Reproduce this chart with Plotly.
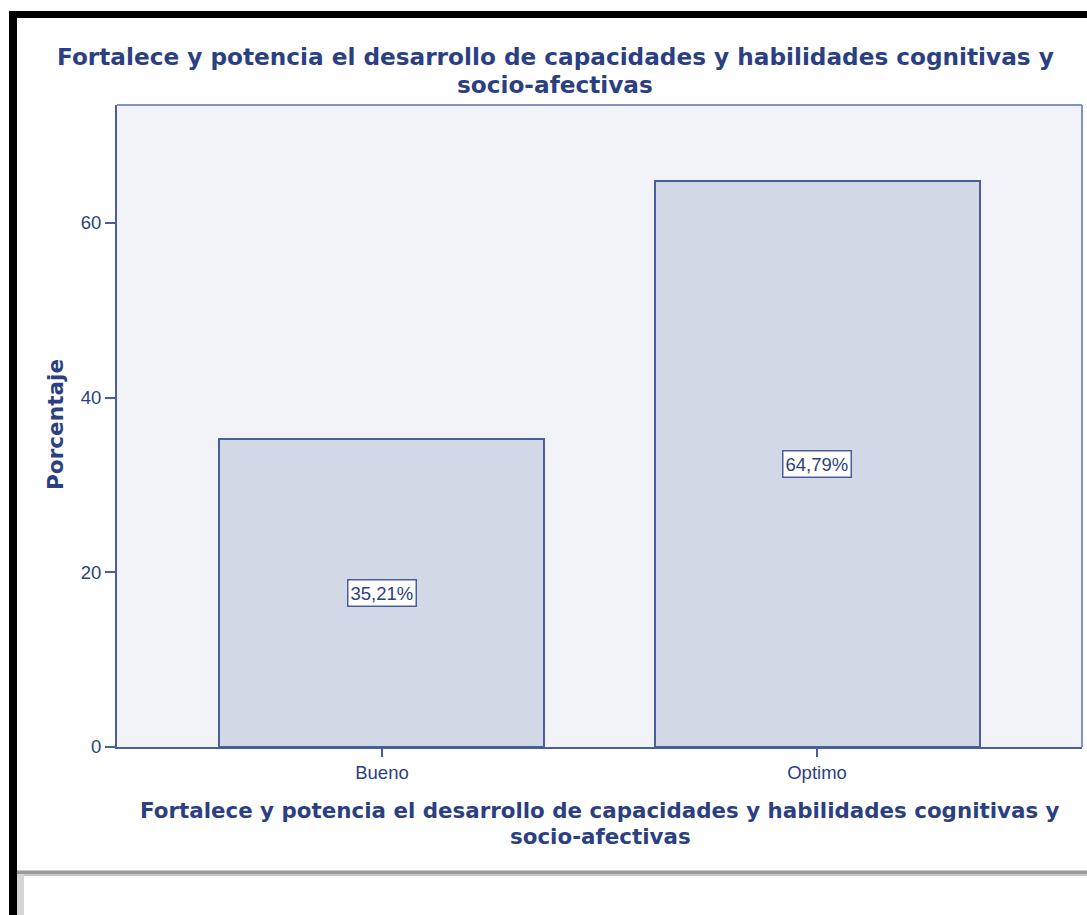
import plotly.graph_objects as go

# Data
categories = ["Bueno", "Optimo"]
percentages = [35.21, 64.79]
y_ticks = [0, 20, 40, 60]

TITLE_LINES = [
    "Fortalece y potencia el desarrollo de capacidades y habilidades cognitivas y",
    "socio-afectivas",
]
TEXT_BLUE = "#2b3f82"
AXIS_BLUE = "#4a5e9c"
FONT = "Liberation Sans, Arial, sans-serif"
BOLD_FONT = "DejaVu Sans, Verdana, sans-serif"

W, H = 1087, 915
L, R, T, B = 117, 1082, 105, 747  # plot area in pixels


def px(x):
    return (x - L) / (R - L)


def py(y):
    return (B - y) / (B - T)


x_pos = list(range(len(categories)))

fig = go.Figure()
fig.add_trace(go.Bar(
    x=x_pos,
    y=percentages,
    width=0.747,
    marker=dict(color="#d2d8e6", line=dict(color=AXIS_BLUE, width=2)),
    hoverinfo="skip",
))

annotations = []
# value labels in boxes at mid-height of each bar
for xi, v in zip(x_pos, percentages):
    annotations.append(dict(
        x=xi, y=v / 2, xref="x", yref="y",
        text=f"{v:.2f}%".replace(".", ","),
        showarrow=False,
        font=dict(family=FONT, size=18.5, color=TEXT_BLUE),
        bgcolor="white", bordercolor=AXIS_BLUE, borderwidth=1.5, borderpad=2,
    ))

# chart title, one annotation per line
for line, yc in zip(TITLE_LINES, [57, 84]):
    annotations.append(dict(
        x=px(555), y=py(yc), xref="paper", yref="paper",
        text=line, showarrow=False, xanchor="center", yanchor="middle",
        font=dict(family=BOLD_FONT, size=23.2, color=TEXT_BLUE, weight="bold"),
    ))
# x-axis title
for line, yc in zip(TITLE_LINES, [810, 836]):
    annotations.append(dict(
        x=px(600), y=py(yc), xref="paper", yref="paper",
        text=line, showarrow=False, xanchor="center", yanchor="middle",
        font=dict(family=BOLD_FONT, size=21.4, color=TEXT_BLUE, weight="bold"),
    ))
# y-axis title
annotations.append(dict(
    x=px(55), y=py(425), xref="paper", yref="paper",
    text="Porcentaje", showarrow=False, textangle=-90,
    xanchor="center", yanchor="middle",
    font=dict(family=BOLD_FONT, size=21.6, color=TEXT_BLUE, weight="bold"),
))

shapes = [
    # plot frame (top and right edges)
    dict(type="line", xref="paper", yref="paper", x0=0, x1=1, y0=1, y1=1,
         line=dict(color="#8393c0", width=2)),
    dict(type="line", xref="paper", yref="paper", x0=1, x1=1, y0=0, y1=1,
         line=dict(color="#8393c0", width=2)),
    # black outer frame
    dict(type="rect", xref="paper", yref="paper",
         x0=px(9), x1=px(17), y0=py(915), y1=py(11),
         fillcolor="black", line=dict(width=0), layer="above"),
    dict(type="rect", xref="paper", yref="paper",
         x0=px(9), x1=px(1087), y0=py(18), y1=py(11),
         fillcolor="black", line=dict(width=0), layer="above"),
    # lower panel edge with soft shadow
    dict(type="rect", xref="paper", yref="paper",
         x0=px(17), x1=px(1087), y0=py(876), y1=py(870),
         fillcolor="#c8c8c8", line=dict(width=0), layer="above"),
    dict(type="rect", xref="paper", yref="paper",
         x0=px(17), x1=px(1087), y0=py(874), y1=py(871),
         fillcolor="#9a9a9a", line=dict(width=0), layer="above"),
    dict(type="rect", xref="paper", yref="paper",
         x0=px(17), x1=px(24), y0=py(915), y1=py(874),
         fillcolor="#d6d6d6", line=dict(width=0), layer="above"),
]

fig.update_layout(
    width=W, height=H,
    margin=dict(l=L, r=W - R, t=T, b=H - B, pad=0),
    paper_bgcolor="white",
    plot_bgcolor="#f1f3f8",
    showlegend=False,
    bargap=0,
    annotations=annotations,
    shapes=shapes,
    font=dict(family=FONT, color=TEXT_BLUE),
)

fig.update_xaxes(
    range=[-0.609, 1.609],
    tickmode="array", tickvals=x_pos, ticktext=categories,
    ticks="outside", ticklen=8, tickwidth=2, tickcolor=AXIS_BLUE,
    tickfont=dict(family=FONT, size=18.5, color=TEXT_BLUE),
    showline=True, linecolor=AXIS_BLUE, linewidth=2,
    showgrid=False, zeroline=False, fixedrange=True,
)
fig.update_yaxes(
    range=[0, 73.5],
    tickmode="array", tickvals=y_ticks,
    ticks="outside", ticklen=10, tickwidth=2, tickcolor=AXIS_BLUE,
    tickfont=dict(family=FONT, size=18.5, color=TEXT_BLUE),
    showline=True, linecolor=AXIS_BLUE, linewidth=2,
    showgrid=False, zeroline=False, fixedrange=True,
)

fig.write_html("out.html", config={"displayModeBar": False})
